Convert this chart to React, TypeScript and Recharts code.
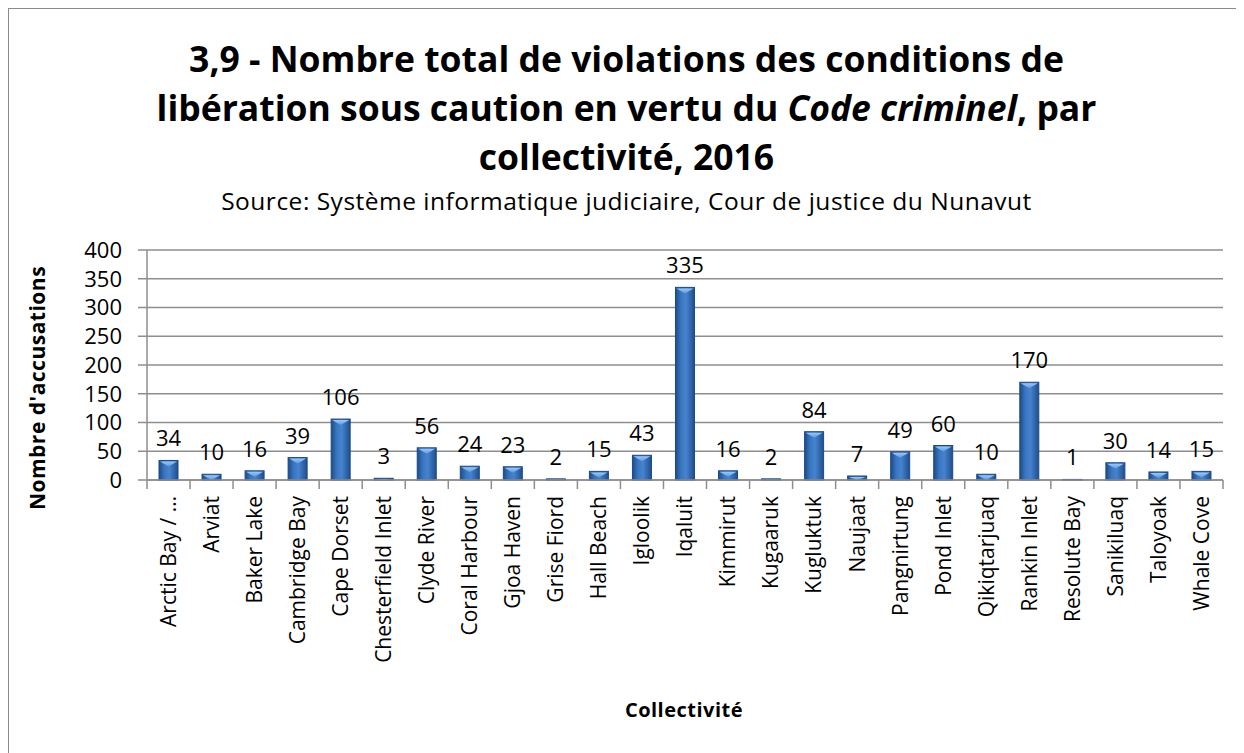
import { Bar, BarChart, CartesianGrid, LabelList, XAxis, YAxis } from "recharts";

const communities = [
  "Arctic Bay / …", "Arviat", "Baker Lake", "Cambridge Bay", "Cape Dorset",
  "Chesterfield Inlet", "Clyde River", "Coral Harbour", "Gjoa Haven", "Grise Fiord",
  "Hall Beach", "Igloolik", "Iqaluit", "Kimmirut", "Kugaaruk", "Kugluktuk",
  "Naujaat", "Pangnirtung", "Pond Inlet", "Qikiqtarjuaq", "Rankin Inlet",
  "Resolute Bay", "Sanikiluaq", "Taloyoak", "Whale Cove",
];
const charges = [34, 10, 16, 39, 106, 3, 56, 24, 23, 2, 15, 43, 335, 16, 2, 84, 7, 49, 60, 10, 170, 1, 30, 14, 15];
const yTicks = [0, 50, 100, 150, 200, 250, 300, 350, 400];

const data = communities.map((name, i) => ({ name, value: charges[i] }));

const W = 1235;
const H = 744;
const Y_AXIS_W = 138;
const MARGIN = { top: 241, right: 21, left: 0, bottom: 73 };
const STEP = (W - Y_AXIS_W - MARGIN.right) / communities.length;
const FONT = "'Open Sans', sans-serif";
const GRID = "#8e8e8e";

function CategoryTick(props: any) {
  const { x, y, payload, index } = props;
  const last = index === communities.length - 1;
  return (
    <g transform={`translate(${x},${y})`}>
      <line x1={-STEP / 2} x2={-STEP / 2} y1={-16} y2={-7} stroke={GRID} strokeWidth={1.5} />
      {last && <line x1={STEP / 2} x2={STEP / 2} y1={-16} y2={-7} stroke={GRID} strokeWidth={1.5} />}
      <text transform="rotate(-90)" textAnchor="end" dy="0.35em" fontSize={21} fontFamily={FONT} fill="#000">
        {payload.value}
      </text>
    </g>
  );
}

function BevelBar(props: any) {
  const { x, y, width, height } = props;
  if (!height || height <= 0) return null;
  const bevel = Math.min(6, height);
  return (
    <g>
      <rect x={x} y={y} width={width} height={height} fill="url(#barFill)" stroke="#1a4a86" strokeWidth={1} />
      <polygon
        points={`${x + 1},${y + 1} ${x + width - 1},${y + 1} ${x + width / 2},${y + bevel}`}
        fill="url(#bevelFill)"
      />
    </g>
  );
}

export default function App() {
  return (
    <div
      style={{
        position: "relative",
        width: W,
        height: H,
        borderLeft: "1px solid #8a8a8a",
        borderTop: "1px solid #8a8a8a",
        background: "#fff",
        fontFamily: FONT,
      }}
    >
      <div style={{ position: "absolute", top: 25, left: 0, width: W, textAlign: "center", fontWeight: 700, fontSize: 35.5, lineHeight: "49px", color: "#000" }}>
        3,9 - Nombre total de violations des conditions de
        <br />
        libération sous caution en vertu du <i>Code criminel</i>, par
        <br />
        collectivité, 2016
      </div>
      <div style={{ position: "absolute", top: 175, left: 0, width: W, textAlign: "center", fontSize: 24.5, letterSpacing: 0.5, color: "#000" }}>
        Source: Système informatique judiciaire, Cour de justice du Nunavut
      </div>
      <div
        style={{
          position: "absolute",
          left: 28,
          top: 379,
          transform: "translate(-50%,-50%) rotate(-90deg)",
          whiteSpace: "nowrap",
          fontWeight: 700,
          fontSize: 21,
          letterSpacing: 0.5,
        }}
      >
        Nombre d'accusations
      </div>
      <div style={{ position: "absolute", left: 0, width: 1350, top: 687, textAlign: "center", fontWeight: 700, fontSize: 20, letterSpacing: 0.5 }}>
        Collectivité
      </div>
      <div style={{ position: "absolute", left: 0, top: 0 }}>
        <BarChart width={W} height={H} data={data} margin={MARGIN}>
          <defs>
            <linearGradient id="barFill" x1="0" y1="0" x2="1" y2="0">
              <stop offset="0%" stopColor="#1d4c88" />
              <stop offset="30%" stopColor="#3a77c2" />
              <stop offset="55%" stopColor="#4683cf" />
              <stop offset="100%" stopColor="#1f4f8c" />
            </linearGradient>
            <linearGradient id="bevelFill" x1="0" y1="0" x2="0" y2="1">
              <stop offset="0%" stopColor="#9cc8f5" />
              <stop offset="100%" stopColor="#5c98dc" />
            </linearGradient>
          </defs>
          <CartesianGrid vertical={false} stroke={GRID} strokeWidth={1.5} />
          <XAxis
            dataKey="name"
            interval={0}
            height={200}
            tickLine={false}
            tickSize={0}
            tickMargin={16}
            axisLine={{ stroke: GRID, strokeWidth: 1.5 }}
            tick={<CategoryTick />}
          />
          <YAxis
            width={Y_AXIS_W}
            domain={[0, 400]}
            ticks={yTicks}
            interval={0}
            tickSize={9}
            tickMargin={16}
            axisLine={{ stroke: GRID, strokeWidth: 1.5 }}
            tickLine={{ stroke: GRID, strokeWidth: 1.5 }}
            tick={{ fontSize: 22, fontFamily: FONT, fill: "#000" }}
          />
          <Bar dataKey="value" barSize={19} shape={<BevelBar />} isAnimationActive={false}>
            <LabelList dataKey="value" position="top" offset={14} fontSize={22} fontFamily={FONT} fill="#000" />
          </Bar>
        </BarChart>
      </div>
    </div>
  );
}
